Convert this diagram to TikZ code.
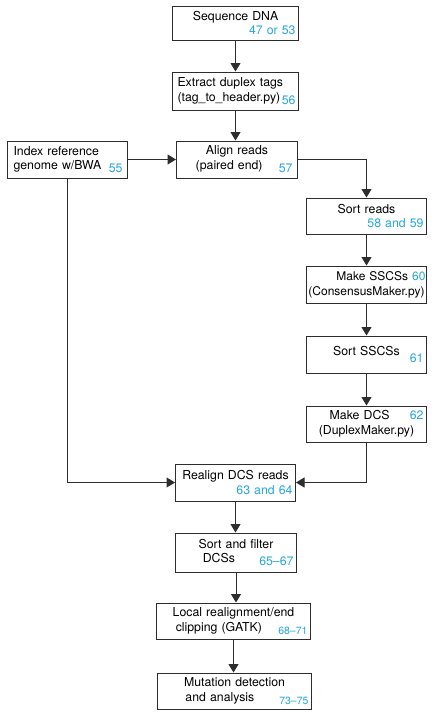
\documentclass[tikz,border=0pt]{standalone}
\usepackage{fontspec}
\setmainfont{TeX Gyre Heros}
\usepackage{tikz}
\usetikzlibrary{arrows.meta,positioning}

\definecolor{numblue}{RGB}{38,166,222}
\definecolor{linegray}{RGB}{45,45,45}
\newcommand{\refnum}[1]{{\color{numblue}#1}}
\newcommand{\fullline}[1]{\makebox[\hsize]{#1}}

\tikzset{
  stepbox/.style={draw=linegray, line width=1pt, inner xsep=3pt, inner ysep=0pt,
    align=center, font=\fontsize{12.3}{14.8}\selectfont},
  flow/.style={draw=linegray, line width=1pt, -{Triangle[width=10pt,length=8.5pt]}}
}

\begin{document}
\begin{tikzpicture}[x=1pt,y=-1pt]
  \useasboundingbox (0,0) rectangle (437,715);
  % main column and reference branch
  \node[stepbox, text width=120pt, minimum height=34pt] (dna) at (235.5,23)
    {Sequence DNA\\\fullline{\hfill\refnum{47 or 53}}};
  \node[stepbox, text width=120pt, minimum height=38pt] (tags) at (235.5,91)
    {\fullline{\hspace{2pt}Extract duplex tags\hfill}\\\fullline{\hspace{2pt}(tag\_to\_header.py)\hfill\raisebox{-3pt}{\refnum{56}}}};
  \node[stepbox, text width=114pt, minimum height=37pt] (index) at (67.5,159.5)
    {\fullline{\hspace{3pt}Index reference\hfill}\\\fullline{\hspace{3pt}genome w/BWA\hfill\raisebox{-3pt}{\refnum{55}}\hspace{2pt}}};
  \node[stepbox, text width=115pt, minimum height=37pt] (align) at (237,159.5)
    {Align reads\\\fullline{\hfill(paired end)\hfill\raisebox{-3pt}{\refnum{57}}\hspace{2pt}}};
  % right column
  \node[stepbox, text width=114pt, minimum height=36pt] (sortr) at (366.5,216)
    {Sort reads\\[-1pt]\fullline{\hfill\refnum{58 and 59}}};
  \node[stepbox, text width=118pt, inner xsep=1pt, minimum height=37pt,
    font=\fontsize{12}{14.8}\selectfont] (sscs) at (366.5,284.5)
    {\fullline{\hfill Make SSCSs\ \refnum{60}}\\(ConsensusMaker.py)};
  \node[stepbox, text width=114pt, minimum height=37pt] (sorts) at (366.5,354.5)
    {Sort SSCSs\\[-8pt]\fullline{\hfill\refnum{61}}};
  \node[stepbox, text width=114pt, minimum height=36pt] (dcs) at (366.5,424)
    {\fullline{\hfill Make DCS\hfill\refnum{62}}\\(DuplexMaker.py)};
  % back in the main column
  \node[stepbox, text width=114pt, minimum height=37pt] (realign) at (235.5,482.5)
    {Realign DCS reads\\\fullline{\hfill\refnum{63 and 64}}};
  \node[stepbox, text width=115pt, minimum height=39pt] (filter) at (236,552.5)
    {Sort and filter\\\fullline{\hfill DCSs\hfill\raisebox{-3pt}{\refnum{65--67}}}};
  \node[stepbox, text width=148pt, minimum height=36pt] (local) at (233.5,621)
    {Local realignment/end\\\fullline{\hfill clipping (GATK)\hfill\raisebox{-3pt}{\refnum{\fontsize{10.5}{12}\selectfont 68--71}}}};
  \node[stepbox, text width=148pt, minimum height=36pt] (mut) at (234.5,691)
    {Mutation detection\\\fullline{\hfill and analysis\hfill\raisebox{-3pt}{\refnum{\fontsize{10.5}{12}\selectfont 73--75}}}};

  % connectors
  \draw[flow] (dna) -- (tags);
  \draw[flow] (tags.south) -- (tags.south |- align.north);
  \draw[flow] (index) -- (align);
  \draw[flow] (align.east) -| (sortr.north);
  \draw[flow] (sortr) -- (sscs);
  \draw[flow] (sscs) -- (sorts);
  \draw[flow] (sorts) -- (dcs);
  \draw[flow] (dcs.south) |- (realign.east);
  \draw[flow] (index.south) |- (realign.west);
  \draw[flow] (realign.south) -- (realign.south |- filter.north);
  \draw[flow] (filter.south) -- (filter.south |- local.north);
  \draw[flow] (local.south) -- (local.south |- mut.north);
\end{tikzpicture}
\end{document}
